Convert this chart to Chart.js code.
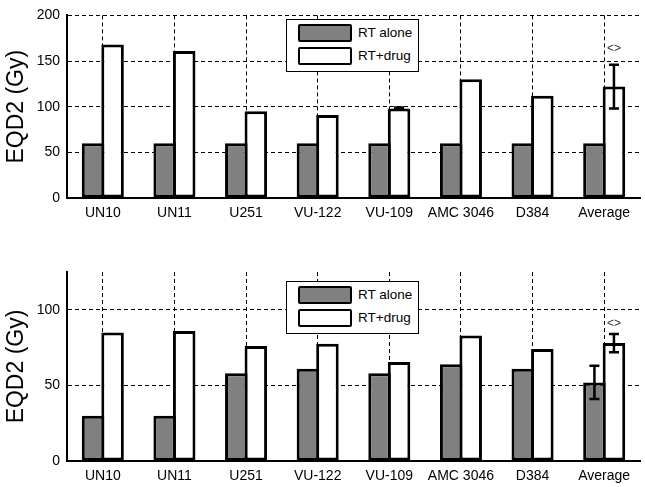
<!DOCTYPE html>
<html>
<head>
<meta charset="utf-8">
<script src="https://cdn.jsdelivr.net/npm/chart.js@4"></script>
<style>
body{margin:0;background:#fff;}
#wrap{position:relative;width:645px;height:487px;font-family:"Liberation Sans",Arial,sans-serif;}
.box{position:absolute;left:0;width:645px;}
.legend{position:absolute;background:#fff;border:1px solid #000;width:133px;height:53px;box-sizing:border-box;}
.item{position:absolute;left:11px;height:18px;font-size:13.5px;}
.sw{position:absolute;left:0;top:0;width:50px;height:14px;border:2px solid #000;border-radius:2px;}
.lbl{position:absolute;left:60px;top:0px;white-space:nowrap;line-height:18px;}
</style>
</head>
<body>
<div id="wrap">
<div class="box" style="top:0;height:236px"><canvas id="top"></canvas></div>
<div class="box" style="top:236px;height:251px"><canvas id="bottom"></canvas></div>
<div class="legend" style="left:286px;top:19px">
<div class="item" style="top:4px"><div class="sw" style="background:#808080"></div><div class="lbl">RT alone</div></div>
<div class="item" style="top:27px"><div class="sw" style="background:#fff"></div><div class="lbl">RT+drug</div></div>
</div>
<div class="legend" style="left:286px;top:281px">
<div class="item" style="top:4px"><div class="sw" style="background:#808080"></div><div class="lbl">RT alone</div></div>
<div class="item" style="top:27px"><div class="sw" style="background:#fff"></div><div class="lbl">RT+drug</div></div>
</div>
</div>
<script>
const categories = ["UN10","UN11","U251","VU-122","VU-109","AMC 3046","D384","Average"]

// top panel
const topAlone = [60,60,60,60,60,60,60,60]
const topDrug = [168,161,95,91,98,130,112,122]
const topAloneErr = [0,0,0,0,0,0,0,0]
const topDrugErr = [0,0,0,0,1,0,0,24]
const topTicks = [0,50,100,150,200]

// bottom panel
const botAlone = [30,30,58,61,58,64,61,52]
const botDrug = [85,86,76,77.5,65.5,83,74,78]
const botAloneErr = [0,0,0,0,0,0,0,11]
const botDrugErr = [0,0,0,0,0,0,0,6]
const botTicks = [0,50,100]

const font = "Liberation Sans, Arial, sans-serif"

const errPlugin = {
id:"errbars",
afterDatasetsDraw(chart,args,opts){
const ctx = chart.ctx
const y = chart.scales.y
ctx.save()
ctx.strokeStyle = "#000"
ctx.lineWidth = 2.5
opts.errs.forEach((errs,di)=>{
const meta = chart.getDatasetMeta(di)
errs.forEach((e,i)=>{
if(!e) return
const v = chart.data.datasets[di].data[i]
const x = meta.data[i].x
const y1 = y.getPixelForValue(v-e), y2 = y.getPixelForValue(v+e)
ctx.beginPath()
ctx.moveTo(x,y1);ctx.lineTo(x,y2)
ctx.moveTo(x-5,y1);ctx.lineTo(x+5,y1)
ctx.moveTo(x-5,y2);ctx.lineTo(x+5,y2)
ctx.stroke()
})
})
// "<>" marker above the average drug bar
const m = chart.getDatasetMeta(1).data[7]
ctx.fillStyle = "#333"
ctx.font = "12px " + font
ctx.textAlign = "center"
ctx.textBaseline = "middle"
ctx.fillText("<>", m.x, y.getPixelForValue(opts.markAt))
ctx.restore()
}
}

function makeChart(id, alone, drug, aloneErr, drugErr, ticks, yMax, padTop, xHeight, markAt){
new Chart(document.getElementById(id),{
type:"bar",
data:{
labels:categories,
datasets:[
{label:"RT alone",data:alone,backgroundColor:"#808080",borderColor:"#000",borderWidth:3,borderSkipped:false},
{label:"RT+drug",data:drug,backgroundColor:"#fff",borderColor:"#000",borderWidth:3,borderSkipped:false}
]
},
options:{
responsive:true,
maintainAspectRatio:false,
animation:false,
// bars a little wider than their slot so the pair shares one border
categoryPercentage:0.545,
barPercentage:1.154,
layout:{padding:{top:padTop,right:5,left:0,bottom:0}},
plugins:{legend:{display:false},tooltip:{enabled:false},errbars:{errs:[aloneErr,drugErr],markAt:markAt}},
scales:{
x:{
grid:{offset:false,color:"#000",lineWidth:1,drawTicks:false},
border:{display:true,color:"#000",width:2,dash:[4,3]},
ticks:{color:"#000",font:{family:font,size:14},padding:7,maxRotation:0,autoSkip:false},
afterFit(s){s.height = xHeight}
},
y:{
min:0,max:yMax,
grid:{color:"#000",lineWidth:1,drawTicks:false},
border:{display:true,color:"#000",width:2,dash:[4,3]},
ticks:{color:"#000",font:{family:font,size:14},padding:7},
afterBuildTicks(s){s.ticks = ticks.map(v=>({value:v}))},
title:{display:true,text:"EQD2 (Gy)",color:"#000",font:{family:font,size:23},padding:{top:3,bottom:0}},
afterFit(s){s.width = 67}
}
}
},
plugins:[errPlugin]
})
}

makeChart("top",topAlone,topDrug,topAloneErr,topDrugErr,topTicks,200,11,38,163)
makeChart("bottom",botAlone,botDrug,botAloneErr,botDrugErr,botTicks,125,36,26,91)
</script>
</body>
</html>
